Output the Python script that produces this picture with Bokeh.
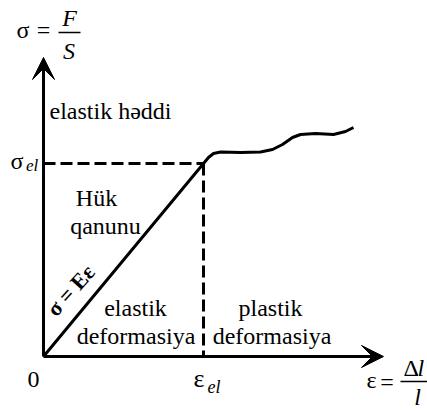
from bokeh.plotting import figure
from bokeh.models import Range1d, Label, Arrow, VeeHead
from bokeh.embed import file_html
from bokeh.resources import INLINE

# Stress-strain diagram (arbitrary units): elastic line then plastic flow
strain = [0, 160, 165, 170, 177, 197, 217, 229, 239, 249, 257, 272, 290, 302, 310]
stress = [0, 193, 199, 203, 204.5, 204, 204.5, 207, 212, 219, 222, 223, 222, 225, 229]
eps_el = 160
sig_el = 193
x_axis_end = 340
y_axis_end = 299

SERIF = "Liberation Serif"

p = figure(width=427, height=411, output_backend="svg", toolbar_location=None,
           x_range=Range1d(-43, 384), y_range=Range1d(-55, 356), min_border=0)
p.axis.visible = False
p.grid.visible = False
p.outline_line_color = None
p.background_fill_color = "white"
p.border_fill_color = "white"

# axes with arrow heads
for xe, ye in [(0, y_axis_end), (x_axis_end, 0)]:
    p.add_layout(Arrow(end=VeeHead(size=22, fill_color="black", line_color="black", line_width=1),
                       x_start=0, y_start=0, x_end=xe, y_end=ye,
                       line_width=3, line_color="black"))

# dashed guides to the elastic limit
p.line([0, eps_el], [sig_el, sig_el], line_dash="12 5", line_width=3, line_color="black")
p.line([eps_el, eps_el], [sig_el, 0], line_dash="12 5", line_width=3, line_color="black")

# the stress-strain curve
p.line(strain, stress, line_width=3, line_color="black", line_join="round")


def lab(x, y, t, size=24, style="normal", align="left", baseline="alphabetic", angle=0):
    # y is the text baseline; labels sit a third of an em low, so lift them
    dy = 0.33 * size if baseline == "alphabetic" else 0
    p.add_layout(Label(x=x, y=y + dy, text=t, text_font=SERIF, text_font_size=f"{size}px",
                       text_font_style=style, text_align=align, text_baseline=baseline,
                       text_color="black", angle=angle))


# sigma = F / S
lab(-27, 319, "σ")
lab(0, 318.5, "=", align="center")
lab(26, 331, "F", style="italic", align="center")
p.line([15, 37], [324, 324], line_width=1.5, line_color="black")
lab(25.5, 298, "S", style="italic", align="center")

lab(6, 238, "elastik həddi")

# sigma_el
lab(-33, 188, "σ")
lab(-17.5, 185, "el", size=17, style="italic")

lab(53, 151, "Hük", align="center")
lab(62, 123, "qanunu", align="center")
lab(92, 41, "elastik", align="center")
lab(92.5, 13, "deformasiya", align="center")
lab(227, 41, "plastik", align="center")
lab(228.5, 13, "deformasiya", align="center")

lab(27, 66, "σ = Eε", size=22, style="bold", align="center", baseline="middle", angle=0.84)

# axis tick labels
lab(-10, -31, "0", align="center")
lab(150, -31, "ε", size=26)
lab(164, -36, "el", size=18, style="italic")

# epsilon = delta l / l
lab(323, -31, "ε")
lab(343.5, -33, "=", align="center")
lab(360, -19, "Δ")
lab(374, -19, "l", style="italic")
p.line([357, 384], [-25, -25], line_width=1.5, line_color="black")
lab(374, -48, "l", style="italic", align="center")

open("out.html", "w").write(file_html(p, INLINE))
